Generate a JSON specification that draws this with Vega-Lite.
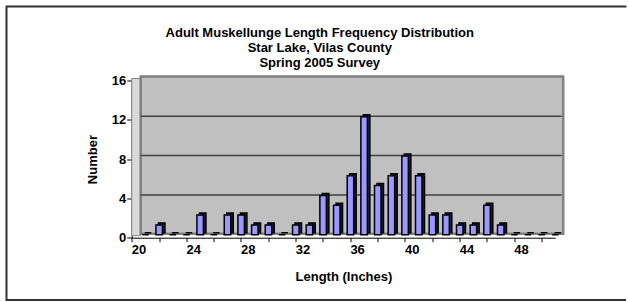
{
  "$schema": "https://vega.github.io/schema/vega-lite/v6.json",
  "autosize": "none",
  "width": 621.5,
  "height": 293.5,
  "padding": {"left": 6.5, "top": 6.5, "right": 0, "bottom": 2},
  "background": "white",
  "config": {"font": "Liberation Sans"},
  "view": {"stroke": "#333333", "strokeWidth": 2, "strokeDash": [620, 297, 1000], "fill": "white"},
  "title": {
    "text": ["Adult Muskellunge Length Frequency Distribution", "Star Lake, Vilas County", "Spring 2005 Survey"],
    "fontSize": 13,
    "fontWeight": "bold",
    "font": "Liberation Sans",
    "color": "black",
    "lineHeight": 15,
    "anchor": "middle",
    "frame": "group",
    "offset": -63,
    "dx": 2.5
  },
  "datasets": {
    "fish": [
      {"length": 20, "count": 0}, {"length": 21, "count": 1}, {"length": 22, "count": 0},
      {"length": 23, "count": 0}, {"length": 24, "count": 2}, {"length": 25, "count": 0},
      {"length": 26, "count": 2}, {"length": 27, "count": 2}, {"length": 28, "count": 1},
      {"length": 29, "count": 1}, {"length": 30, "count": 0}, {"length": 31, "count": 1},
      {"length": 32, "count": 1}, {"length": 33, "count": 4}, {"length": 34, "count": 3},
      {"length": 35, "count": 6}, {"length": 36, "count": 12}, {"length": 37, "count": 5},
      {"length": 38, "count": 6}, {"length": 39, "count": 8}, {"length": 40, "count": 6},
      {"length": 41, "count": 2}, {"length": 42, "count": 2}, {"length": 43, "count": 1},
      {"length": 44, "count": 1}, {"length": 45, "count": 3}, {"length": 46, "count": 1},
      {"length": 47, "count": 0}, {"length": 48, "count": 0}, {"length": 49, "count": 0},
      {"length": 50, "count": 0}
    ],
    "grid": [{"g": 4}, {"g": 8}, {"g": 12}]
  },
  "layer": [
    {
      "data": {"values": [{}]},
      "mark": {"type": "rect", "fill": "#d9d9d9", "stroke": "#808080", "strokeWidth": 1, "x2Offset": 9, "yOffset": -2, "y2Offset": -2},
      "encoding": {
        "x": {"datum": 19.5, "type": "quantitative"},
        "x2": {"datum": 19.5},
        "y": {"datum": 16, "type": "quantitative"},
        "y2": {"datum": 0}
      }
    },
    {
      "data": {"values": [{}]},
      "mark": {"type": "rect", "fill": "#c0c0c0", "stroke": "#808080", "strokeWidth": 2.5, "xOffset": 9, "x2Offset": 8, "yOffset": -4, "y2Offset": -4},
      "encoding": {
        "x": {"datum": 19.5, "type": "quantitative"},
        "x2": {"datum": 50.5},
        "y": {"datum": 16, "type": "quantitative"},
        "y2": {"datum": 0}
      }
    },
    {
      "data": {"name": "grid"},
      "mark": {"type": "rule", "color": "#404040", "strokeWidth": 1.5, "xOffset": 9, "x2Offset": 6.5, "yOffset": -3.5},
      "encoding": {
        "x": {"datum": 19.5, "type": "quantitative"},
        "x2": {"datum": 50.5},
        "y": {"field": "g", "type": "quantitative"}
      }
    },
    {
      "data": {"name": "fish"},
      "mark": {"type": "bar", "width": 6.5, "fill": "#1e1e50", "stroke": "black", "strokeWidth": 1.5, "xOffset": 9.5, "yOffset": -5, "y2Offset": -5},
      "encoding": {
        "x": {"field": "length", "type": "quantitative"},
        "y": {"field": "count", "type": "quantitative"}
      }
    },
    {
      "data": {"name": "fish"},
      "mark": {"type": "bar", "width": 6.5, "fill": "#9999ff", "stroke": "black", "strokeWidth": 1.5, "xOffset": 7, "yOffset": -3, "y2Offset": -3},
      "encoding": {
        "x": {
          "field": "length",
          "type": "quantitative",
          "scale": {"domain": [19.5, 50.5], "range": [125.2, 548.7], "nice": false, "zero": false, "padding": 0},
          "axis": {
            "title": "Length (Inches)",
            "titleFont": "Liberation Sans",
            "titleFontSize": 13,
            "titleFontWeight": "bold",
            "titleColor": "black",
            "titlePadding": 14,
            "offset": -62.3,
            "values": [19.5, 20.5, 21.5, 22.5, 23.5, 24.5, 25.5, 26.5, 27.5, 28.5, 29.5, 30.5, 31.5, 32.5, 33.5, 34.5, 35.5, 36.5, 37.5, 38.5, 39.5, 40.5, 41.5, 42.5, 43.5, 44.5, 45.5, 46.5, 47.5, 48.5, 49.5, 50.5],
            "labelExpr": "(datum.value + 0.5) % 4 == 0 && datum.value < 49 ? format(datum.value + 0.5, 'd') : ''",
            "labelOffset": 6.83,
            "labelOverlap": false,
            "labelFlush": false,
            "labelBound": false,
            "labelFont": "Liberation Sans",
            "labelFontSize": 13,
            "labelFontWeight": "bold",
            "labelColor": "black",
            "labelPadding": 2,
            "tickSize": 4,
            "tickColor": "black",
            "domainColor": "black",
            "grid": false
          }
        },
        "y": {
          "field": "count",
          "type": "quantitative",
          "scale": {"domain": [0, 16], "range": [231.2, 74], "nice": false, "zero": true},
          "axis": {
            "title": "Number",
            "titleFont": "Liberation Sans",
            "titleFontSize": 13,
            "titleFontWeight": "bold",
            "titleColor": "black",
            "titlePadding": 12,
            "offset": -125.2,
            "values": [0, 4, 8, 12, 16],
            "labelFont": "Liberation Sans",
            "labelFontSize": 13,
            "labelFontWeight": "bold",
            "labelColor": "black",
            "labelPadding": 1,
            "tickSize": 5,
            "tickColor": "black",
            "domainColor": "black",
            "grid": false
          }
        }
      }
    }
  ]
}
